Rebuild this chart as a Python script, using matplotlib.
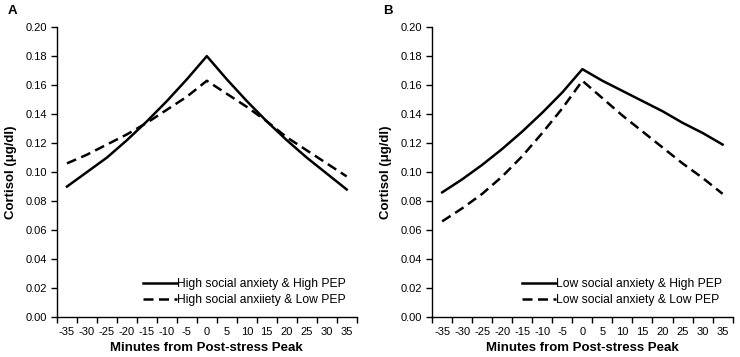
import numpy as np
import matplotlib.pyplot as plt
from matplotlib.ticker import FixedLocator, NullFormatter, FixedFormatter

plt.rcParams['font.family'] = ['Liberation Sans', 'DejaVu Sans']

# Minutos em relação ao pico pós-estresse
minutes = [-35, -30, -25, -20, -15, -10, -5, 0, 5, 10, 15, 20, 25, 30, 35]

# Painel A: alta ansiedade social
a_high_pep = [0.090, 0.100, 0.110, 0.122, 0.135, 0.149, 0.164, 0.180,
              0.164, 0.149, 0.135, 0.122, 0.110, 0.099, 0.088]
a_low_pep = [0.106, 0.112, 0.119, 0.126, 0.134, 0.143, 0.152, 0.163,
             0.154, 0.145, 0.135, 0.124, 0.115, 0.106, 0.097]

# Painel B: baixa ansiedade social
b_high_pep = [0.086, 0.095, 0.105, 0.116, 0.128, 0.141, 0.155, 0.171,
              0.163, 0.156, 0.149, 0.142, 0.134, 0.127, 0.119]
b_low_pep = [0.066, 0.075, 0.085, 0.097, 0.111, 0.127, 0.144, 0.163,
             0.151, 0.139, 0.128, 0.117, 0.106, 0.096, 0.085]

labels_a = ["High social anxiety & High PEP", "High social anxiiety & Low PEP"]
labels_b = ["Low social anxiety & High PEP", "Low social anxiety & Low PEP"]

fig = plt.figure(figsize=(7.4, 3.57), dpi=100)
ax_a = fig.add_axes([0.077, 0.112, 0.405, 0.812])
ax_b = fig.add_axes([0.584, 0.112, 0.406, 0.812])


def draw_panel(ax, solid, dashed, labels, letter):
    x = np.arange(len(minutes))
    ax.plot(x, solid, color='black', linewidth=1.8, label=labels[0])
    ax.plot(x, dashed, color='black', linewidth=1.8, linestyle=(0, (4, 2.2)),
            label=labels[1])

    ax.set_xlim(-0.5, len(minutes) - 0.5)
    ax.set_ylim(0, 0.2)
    ax.set_yticks(np.arange(0, 0.201, 0.02))
    ax.set_yticklabels([f"{v:.2f}" for v in np.arange(0, 0.201, 0.02)])

    # estilo Excel: marcas entre as categorias, rótulos no centro
    ax.xaxis.set_major_locator(FixedLocator(np.arange(-0.5, len(minutes), 1)))
    ax.xaxis.set_major_formatter(NullFormatter())
    ax.xaxis.set_minor_locator(FixedLocator(x))
    ax.xaxis.set_minor_formatter(FixedFormatter([str(m) for m in minutes]))
    ax.tick_params(axis='x', which='major', length=4, width=1, direction='out')
    ax.tick_params(axis='x', which='minor', length=0, pad=7.5, labelsize=8)
    ax.tick_params(axis='y', length=4, width=1, labelsize=8, pad=3)

    for side in ['top', 'right']:
        ax.spines[side].set_visible(False)
    for side in ['left', 'bottom']:
        ax.spines[side].set_linewidth(1.0)

    ax.set_xlabel("Minutes from Post-stress Peak", fontsize=9.5,
                  fontweight='bold', labelpad=3)
    ax.set_ylabel("Cortisol (\u03bcg/dl)", fontsize=9.5, fontweight='bold',
                  labelpad=6)
    ax.legend(loc='lower right', frameon=False, fontsize=8.7,
              handlelength=2.8, handletextpad=0.0, labelspacing=0.35,
              borderaxespad=0.5)
    ax.text(-0.163, 1.075, letter, transform=ax.transAxes, fontsize=9.5,
            fontweight='bold', va='top', ha='left')


draw_panel(ax_a, a_high_pep, a_low_pep, labels_a, "A")
draw_panel(ax_b, b_high_pep, b_low_pep, labels_b, "B")

fig.savefig("out.png", dpi=100)
